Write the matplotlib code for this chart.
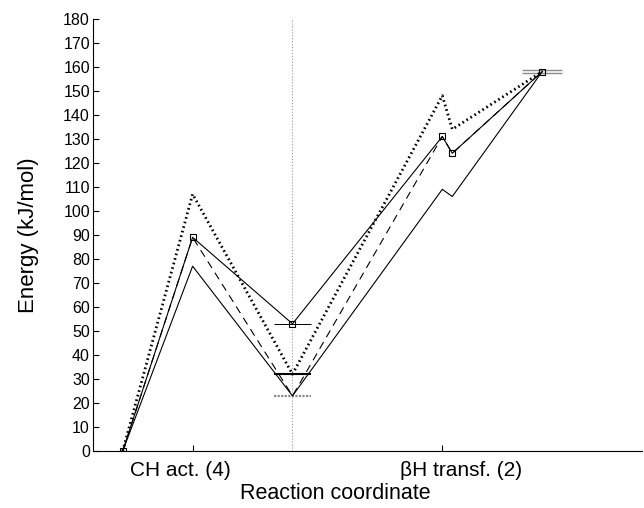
import numpy as np
import matplotlib.pyplot as plt

plt.rcParams['font.family'] = ['Liberation Sans', 'DejaVu Sans']

# reaction coordinate positions of the states
states_x = [0.6, 2, 4, 7, 7.2, 9]

# energy profiles (kJ/mol)
energy_squares = [0, 89, 53, 131, 124, 158]
energy_solid = [0, 77, 23, 109, 106, 158]
energy_dashed = [0, 89, 23, 131, 124, 158]
energy_dotted = [0, 107, 32, 148, 134, 158]

# horizontal level bars: (x centre, energy)
level_thin = (4, 53)
level_thick = (4, 32)
level_grey = (4, 23)
level_final = (9, 158)

step_labels = ['CH act. (4)', '\u03b2H transf. (2)']
step_ticks = [2, 7]
step_label_x = [1.76, 7.37]
divider_x = 4

fig = plt.figure(figsize=(6.44, 5.08), dpi=100)
ax = fig.add_axes([0.144, 0.112, 0.853, 0.851])

ax.plot([divider_x, divider_x], [0, 180], color='#999999', ls=':', lw=0.8)

half = 0.38
ax.hlines(level_grey[1], level_grey[0] - half, level_grey[0] + half,
          colors='#8a8a8a', lw=1.6, linestyles=(0, (1, 0.6)))
ax.hlines(level_thick[1], level_thick[0] - half, level_thick[0] + half,
          colors='k', lw=1.5)
ax.hlines(level_thin[1], level_thin[0] - half, level_thin[0] + half,
          colors='k', lw=0.7)
ax.hlines([level_final[1] - 0.6, level_final[1] + 0.6],
          level_final[0] - 0.4, level_final[0] + 0.4,
          colors='#8a8a8a', lw=1.0)

ax.plot(states_x, energy_dotted, color='k', lw=2.0, ls=(0, (0.6, 1.1)))
ax.plot(states_x, energy_dashed, color='k', lw=0.8, ls=(0, (7, 5)))
ax.plot(states_x, energy_solid, color='k', lw=0.8)
ax.plot(states_x, energy_squares, color='k', lw=0.8, marker='s', ms=4.5,
        mfc='none', mew=0.8)

ax.set_xlim(0, 11)
ax.set_ylim(0, 180)
ax.set_yticks(np.arange(0, 181, 10))
ax.set_xticks(step_ticks)
ax.set_xticklabels([])
ax.tick_params(direction='in', length=4, width=0.8, labelsize=11.5, pad=2)
ax.spines['top'].set_visible(False)
ax.spines['right'].set_visible(False)

for x, lab in zip(step_label_x, step_labels):
    ax.text(x, -0.044, lab, transform=ax.get_xaxis_transform(),
            ha='center', va='center', fontsize=15)

ax.text(4.85, -0.097, 'Reaction coordinate', transform=ax.get_xaxis_transform(),
        ha='center', va='center', fontsize=15.5)
ax.set_ylabel('Energy (kJ/mol)', fontsize=16)
ax.yaxis.set_label_coords(-0.098, 0.5)

fig.savefig('out.png', dpi=100)
